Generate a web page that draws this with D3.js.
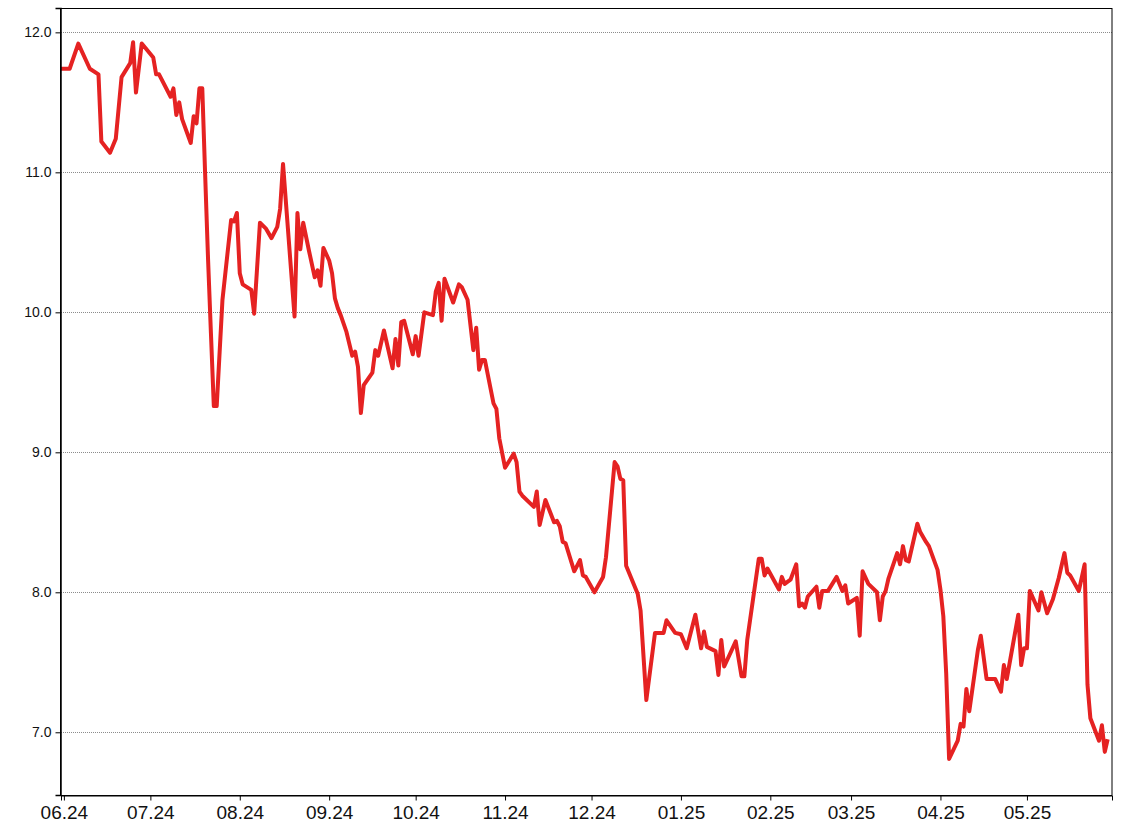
<!DOCTYPE html>
<html>
<head>
<meta charset="utf-8">
<script src="https://cdn.jsdelivr.net/npm/d3@7"></script>
<style>
  html, body { margin: 0; padding: 0; background: #fff; }
  svg { display: block; }
</style>
</head>
<body>
<svg id="chart" width="1128" height="836"></svg>
<script>
const dates = [
  "2024-05-31","2024-06-03","2024-06-06","2024-06-10","2024-06-13","2024-06-14","2024-06-17","2024-06-19","2024-06-21","2024-06-24",
  "2024-06-25","2024-06-26","2024-06-28","2024-07-02","2024-07-03","2024-07-04","2024-07-08","2024-07-09","2024-07-10","2024-07-11",
  "2024-07-12","2024-07-15","2024-07-16","2024-07-17","2024-07-18","2024-07-19","2024-07-20","2024-07-21","2024-07-22","2024-07-23",
  "2024-07-24","2024-07-26","2024-07-29","2024-07-30","2024-07-31","2024-08-01","2024-08-02","2024-08-05","2024-08-06","2024-08-08",
  "2024-08-10","2024-08-12","2024-08-14","2024-08-15","2024-08-16","2024-08-20","2024-08-21","2024-08-22","2024-08-23","2024-08-25",
  "2024-08-27","2024-08-28","2024-08-29","2024-08-30","2024-09-01","2024-09-02","2024-09-03","2024-09-04","2024-09-05","2024-09-07",
  "2024-09-09","2024-09-10","2024-09-11","2024-09-12","2024-09-13","2024-09-16","2024-09-17","2024-09-18","2024-09-20","2024-09-23",
  "2024-09-24","2024-09-25","2024-09-26","2024-09-27","2024-09-30","2024-10-01","2024-10-02","2024-10-04","2024-10-07","2024-10-08",
  "2024-10-09","2024-10-10","2024-10-11","2024-10-14","2024-10-16","2024-10-17","2024-10-19","2024-10-21","2024-10-22","2024-10-23",
  "2024-10-24","2024-10-25","2024-10-28","2024-10-29","2024-10-30","2024-11-01","2024-11-04","2024-11-05","2024-11-06","2024-11-07",
  "2024-11-11","2024-11-12","2024-11-13","2024-11-15","2024-11-18","2024-11-19","2024-11-20","2024-11-21","2024-11-22","2024-11-25",
  "2024-11-27","2024-11-28","2024-11-29","2024-12-02","2024-12-05","2024-12-06","2024-12-09","2024-12-10","2024-12-11","2024-12-12",
  "2024-12-13","2024-12-17","2024-12-18","2024-12-20","2024-12-23","2024-12-26","2024-12-27","2024-12-30","2025-01-01","2025-01-03",
  "2025-01-06","2025-01-08","2025-01-09","2025-01-10","2025-01-13","2025-01-14","2025-01-15","2025-01-16","2025-01-20","2025-01-22",
  "2025-01-23","2025-01-24","2025-01-28","2025-01-29","2025-01-30","2025-01-31","2025-02-04","2025-02-05","2025-02-06","2025-02-08",
  "2025-02-10","2025-02-11","2025-02-12","2025-02-13","2025-02-14","2025-02-17","2025-02-18","2025-02-19","2025-02-21","2025-02-24",
  "2025-02-26","2025-02-27","2025-02-28","2025-03-03","2025-03-04","2025-03-05","2025-03-07","2025-03-10","2025-03-11","2025-03-12",
  "2025-03-13","2025-03-14","2025-03-17","2025-03-18","2025-03-19","2025-03-20","2025-03-21","2025-03-24","2025-03-25","2025-03-27",
  "2025-03-28","2025-03-31","2025-04-01","2025-04-02","2025-04-03","2025-04-04","2025-04-07","2025-04-08","2025-04-09","2025-04-10",
  "2025-04-11","2025-04-14","2025-04-15","2025-04-17","2025-04-20","2025-04-22","2025-04-23","2025-04-24","2025-04-28","2025-04-29",
  "2025-04-30","2025-05-01","2025-05-02","2025-05-05","2025-05-06","2025-05-08","2025-05-10","2025-05-12","2025-05-14","2025-05-15",
  "2025-05-16","2025-05-19","2025-05-21","2025-05-22","2025-05-23","2025-05-26","2025-05-27","2025-05-28","2025-05-29"
];
const values = [
  11.74,11.74,11.92,11.74,11.70,11.22,11.14,11.24,11.68,11.78,
  11.93,11.57,11.92,11.82,11.70,11.70,11.54,11.60,11.41,11.50,
  11.38,11.21,11.40,11.35,11.60,11.60,10.98,10.38,9.85,9.33,
  9.33,10.09,10.66,10.65,10.71,10.28,10.20,10.16,9.99,10.64,
  10.60,10.53,10.61,10.74,11.06,9.97,10.71,10.45,10.64,10.44,
  10.25,10.30,10.19,10.46,10.37,10.28,10.10,10.03,9.98,9.86,
  9.69,9.72,9.61,9.28,9.48,9.57,9.73,9.69,9.87,9.60,
  9.81,9.62,9.93,9.94,9.70,9.83,9.69,10.00,9.98,10.15,
  10.21,9.94,10.24,10.07,10.20,10.18,10.09,9.73,9.89,9.59,
  9.66,9.66,9.35,9.31,9.10,8.89,8.99,8.93,8.72,8.69,
  8.61,8.72,8.48,8.66,8.50,8.51,8.47,8.36,8.35,8.15,
  8.23,8.12,8.11,8.00,8.11,8.25,8.93,8.90,8.81,8.80,
  8.19,7.99,7.87,7.23,7.71,7.71,7.80,7.71,7.70,7.60,
  7.84,7.60,7.72,7.61,7.58,7.41,7.66,7.47,7.65,7.40,
  7.40,7.66,8.24,8.24,8.12,8.17,8.02,8.11,8.06,8.09,
  8.20,7.90,7.92,7.89,7.97,8.04,7.89,8.01,8.01,8.11,
  8.01,8.05,7.92,7.96,7.69,8.15,8.06,8.00,7.80,7.97,
  8.01,8.10,8.28,8.20,8.33,8.23,8.22,8.49,8.43,8.36,
  8.33,8.16,8.02,7.83,7.42,6.81,6.94,7.06,7.04,7.31,
  7.15,7.59,7.69,7.38,7.38,7.29,7.48,7.38,7.84,7.48,
  7.60,7.60,8.01,7.87,8.00,7.85,7.95,8.10,8.28,8.14,
  8.12,8.01,8.20,7.34,7.10,6.94,7.05,6.86,6.95
];
const yTicks = [7.0, 8.0, 9.0, 10.0, 11.0, 12.0];
const xTickDates = ["2024-06-01","2024-07-01","2024-08-01","2024-09-01","2024-10-01","2024-11-01","2024-12-01","2025-01-01","2025-02-01","2025-03-01","2025-04-01","2025-05-01"];
const xDomain = ["2024-05-31T00:00:00","2025-05-30T12:00:00"];
const yDomain = [6.552, 12.174];

const data = dates.map((d, i) => ({ date: new Date(d + "T00:00:00"), value: values[i] }));

const mLeft = 61, mRight = 1112, mTop = 8, mBottom = 795;
const svg = d3.select("#chart");

const x = d3.scaleTime().domain(xDomain.map(s => new Date(s))).range([mLeft, mRight]);
const y = d3.scaleLinear().domain(yDomain).range([mBottom, mTop]);

// grid lines
svg.append("g")
  .selectAll("line")
  .data(yTicks)
  .join("line")
  .attr("x1", mLeft).attr("x2", mRight)
  .attr("y1", d => Math.round(y(d)) + 0.5).attr("y2", d => Math.round(y(d)) + 0.5)
  .attr("stroke", "#8c8c8c")
  .attr("stroke-width", 1)
  .attr("stroke-dasharray", "1,1");

// line
const line = d3.line().x(d => x(d.date)).y(d => y(d.value));
svg.append("path")
  .datum(data)
  .attr("fill", "none")
  .attr("stroke", "#e52222")
  .attr("stroke-width", 4)
  .attr("stroke-linejoin", "round")
  .attr("stroke-linecap", "butt")
  .attr("d", line);

// frame
svg.append("rect")
  .attr("x", mLeft - 0.5).attr("y", mTop + 0.5)
  .attr("width", mRight - mLeft + 0.5).attr("height", mBottom - mTop)
  .attr("fill", "none").attr("stroke", "#000").attr("stroke-width", 1);

// y axis
const yAxis = d3.axisLeft(y).tickValues(yTicks).tickFormat(d3.format(".1f")).tickSize(5).tickPadding(4);
const gy = svg.append("g").attr("transform", `translate(${mLeft - 0.5},0)`).call(yAxis);
gy.select(".domain").attr("stroke", "#000").attr("stroke-width", 1.5);
gy.selectAll(".tick line").attr("stroke", "#000");
gy.selectAll("text").attr("font-family", "'Liberation Sans', Arial, sans-serif").attr("font-size", 14).attr("fill", "#111");

// x axis
const xAxis = d3.axisBottom(x).tickValues(xTickDates.map(s => new Date(s + "T00:00:00"))).tickFormat(d3.timeFormat("%m.%y")).tickSize(5).tickPadding(5);
const gx = svg.append("g").attr("transform", `translate(0,${mBottom + 0.5})`).call(xAxis);
gx.select(".domain").attr("stroke", "#000");
gx.selectAll(".tick line").attr("stroke", "#000");
gx.selectAll("text").attr("font-family", "'Liberation Sans', Arial, sans-serif").attr("font-size", 19).attr("fill", "#111");
</script>
</body>
</html>
